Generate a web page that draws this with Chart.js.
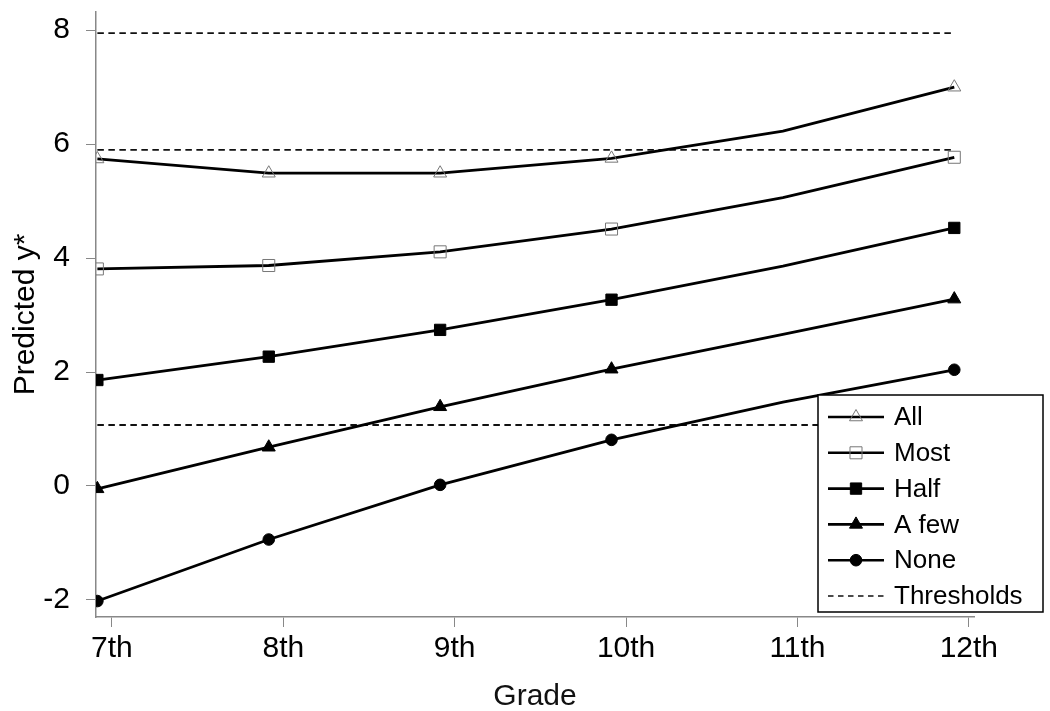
<!DOCTYPE html>
<html>
<head>
<meta charset="utf-8">
<script src="https://cdn.jsdelivr.net/npm/chart.js@4.4.1/dist/chart.umd.min.js"></script>
<style>
  html, body { margin: 0; padding: 0; background: #fff; }
  #wrap { width: 1050px; height: 711px; }
</style>
</head>
<body>
<div id="wrap"><canvas id="chart" width="1050" height="711"></canvas></div>
<script>
// values
const gradeLabels = ['7th', '8th', '9th', '10th', '11th', '12th'];
const gradeTicks = [7, 8, 9, 10, 11, 12];
const gradeX = [6.915, 7.915, 8.915, 9.915, 10.915, 11.915];
const allVals = [5.74, 5.49, 5.49, 5.75, 6.23, 7.00];
const mostVals = [3.81, 3.87, 4.11, 4.51, 5.06, 5.77];
const halfVals = [1.86, 2.27, 2.74, 3.27, 3.86, 4.53];
const aFewVals = [-0.05, 0.68, 1.39, 2.05, 2.66, 3.28];
const noneVals = [-2.02, -0.94, 0.02, 0.81, 1.47, 2.04];
const thresholds = [7.95, 5.90, 1.07];
const yTicks = [-2, 0, 2, 4, 6, 8];
const markerShown = [true, true, true, true, false, true];

const font = "'Liberation Sans', Arial, sans-serif";

function pts(vals) {
  return vals.map((v, i) => ({ x: gradeX[i], y: v }));
}

function series(label, vals, style, radius, hollow) {
  return {
    label: label,
    data: pts(vals),
    borderColor: '#000',
    borderWidth: 2.8,
    pointStyle: style,
    pointRadius: markerShown.map(m => m ? radius : 0),
    pointBackgroundColor: hollow ? 'rgba(0,0,0,0)' : '#000',
    pointBorderColor: hollow ? '#777' : '#000',
    pointBorderWidth: 1,
    tension: 0,
    legendRadius: radius
  };
}

const datasets = [
  series('All', allVals, 'triangle', 7.5, true),
  series('Most', mostVals, 'rect', 8.5, true),
  series('Half', halfVals, 'rect', 8, false),
  series('A few', aFewVals, 'triangle', 7.5, false),
  series('None', noneVals, 'circle', 5.8, false)
];

thresholds.forEach(t => {
  datasets.push({
    label: 'Thresholds',
    data: [{ x: gradeX[0], y: t }, { x: gradeX[gradeX.length - 1], y: t }],
    borderColor: '#111',
    borderWidth: 1.8,
    borderDash: [6.5, 4.5],
    pointRadius: 0,
    isThreshold: true
  });
});

// legend box drawn inside the plot, bottom right
const boxLegend = {
  id: 'boxLegend',
  afterDatasetsDraw(chart) {
    const ctx = chart.ctx;
    const area = chart.chartArea;
    const x0 = area.left + 722, y0 = area.top + 383;
    const w = 225, h = 217;
    ctx.save();
    ctx.fillStyle = '#fff';
    ctx.fillRect(x0, y0, w, h);
    ctx.strokeStyle = '#000';
    ctx.lineWidth = 1.5;
    ctx.strokeRect(x0, y0, w, h);

    const items = datasets.filter(d => !d.isThreshold);
    items.push(datasets.find(d => d.isThreshold));
    items.forEach((d, i) => {
      const cy = y0 + 22 + i * 35.8;
      const lx0 = x0 + 10, lx1 = x0 + 66;
      ctx.strokeStyle = d.borderColor;
      ctx.lineWidth = d.isThreshold ? 1.6 : 2.6;
      ctx.setLineDash(d.isThreshold ? [5.5, 4.5] : []);
      ctx.beginPath();
      ctx.moveTo(lx0, cy);
      ctx.lineTo(lx1, cy);
      ctx.stroke();
      ctx.setLineDash([]);
      if (!d.isThreshold) {
        ctx.fillStyle = d.pointBackgroundColor;
        ctx.strokeStyle = d.pointBorderColor;
        ctx.lineWidth = 1;
        Chart.helpers.drawPoint(ctx, {
          pointStyle: d.pointStyle,
          radius: d.legendRadius,
          borderWidth: 1,
          rotation: 0
        }, (lx0 + lx1) / 2, cy);
      }
      ctx.fillStyle = '#000';
      ctx.font = '26px ' + font;
      ctx.textAlign = 'left';
      ctx.textBaseline = 'middle';
      ctx.fillText(d.label, x0 + 76, cy + 1);
    });
    ctx.restore();
  }
};

new Chart(document.getElementById('chart'), {
  type: 'line',
  data: { datasets: datasets },
  plugins: [boxLegend],
  options: {
    responsive: false,
    animation: false,
    layout: { padding: { top: 12, right: 76, left: 0, bottom: 0 } },
    plugins: {
      legend: { display: false },
      tooltip: { enabled: false }
    },
    scales: {
      x: {
        type: 'linear',
        min: 6.907,
        max: 12.03,
        afterBuildTicks: s => { s.ticks = gradeTicks.map(v => ({ value: v })); },
        afterFit: s => { s.height = 94; s.paddingLeft = 0; s.paddingRight = 0; },
        grid: { drawOnChartArea: false, drawTicks: true, tickLength: 10, color: '#888', lineWidth: 1 },
        border: { display: true, color: '#888', width: 1.5 },
        ticks: {
          padding: 4,
          color: '#000',
          font: { family: font, size: 30 },
          maxRotation: 0,
          callback: v => gradeLabels[gradeTicks.indexOf(v)]
        },
        title: {
          display: true,
          text: 'Grade',
          color: '#111',
          font: { family: font, size: 30 },
          padding: { top: 0, bottom: -4 }
        }
      },
      y: {
        type: 'linear',
        min: -2.3,
        max: 8.32,
        afterBuildTicks: s => { s.ticks = yTicks.map(v => ({ value: v })); },
        afterFit: s => { s.width = 96; s.paddingTop = 0; s.paddingBottom = 0; },
        grid: { drawOnChartArea: false, drawTicks: true, tickLength: 10, color: '#888', lineWidth: 1 },
        border: { display: true, color: '#888', width: 1.5 },
        ticks: {
          padding: 16,
          color: '#000',
          font: { family: font, size: 30 }
        },
        title: {
          display: true,
          text: 'Predicted y*',
          color: '#000',
          font: { family: font, size: 30 },
          padding: { top: 8, bottom: 0 }
        }
      }
    }
  }
});
</script>
</body>
</html>
